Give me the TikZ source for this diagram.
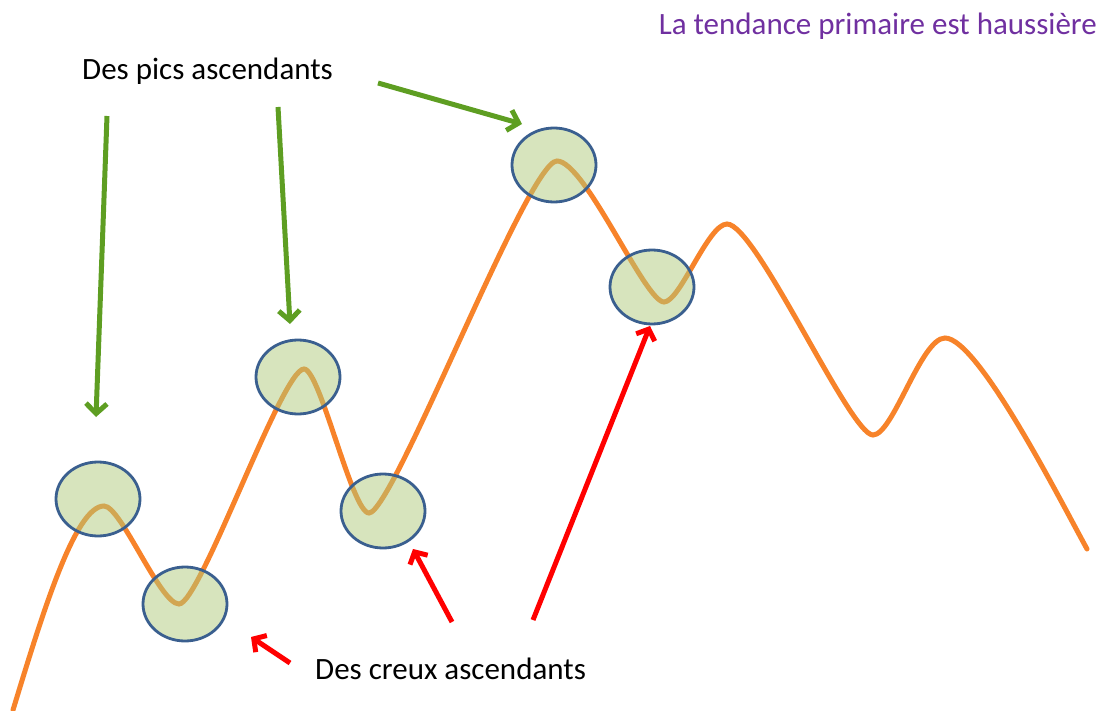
\documentclass[tikz,border=0pt]{standalone}
\usepackage{fontspec}
\setmainfont{Carlito}
\usetikzlibrary{arrows.meta,shapes.geometric}
\definecolor{curveor}{HTML}{F7832A}
\definecolor{ellfill}{HTML}{AFC97B}
\definecolor{elldraw}{HTML}{3A5F8F}
\definecolor{greenar}{HTML}{5E9E22}
\definecolor{redar}{HTML}{FF0000}
\definecolor{titlepurple}{HTML}{7030A0}
\tikzset{
  zone/.style={ellipse, draw=elldraw, line width=2.8pt, fill=ellfill, fill opacity=0.5, draw opacity=1,
    minimum width=84pt, minimum height=74pt, inner sep=0pt},
  greenarrow/.style={draw=greenar, line width=5pt, -{Straight Barb[length=10pt,width=21pt]}},
  redarrow/.style={draw=redar, line width=5pt, -{Straight Barb[length=9pt,width=20pt]}},
  label/.style={font=\fontsize{31}{36}\selectfont, text=black, inner sep=0pt, anchor=base west}
}
\begin{document}
\begin{tikzpicture}[x=1pt,y=-1pt]
\useasboundingbox (0,0) rectangle (1102,711);
% price curve
\draw[curveor, line width=5pt, line cap=round]
 (13,710) .. controls (42,615) and (75,506) .. (104,506)
 .. controls (121,506) and (160,604) .. (179,604)
 .. controls (200,604) and (282,369) .. (304,369)
 .. controls (320,369) and (352,513) .. (369,513)
 .. controls (393,513) and (528,161) .. (557,161)
 .. controls (585,161) and (645,302) .. (664,302)
 .. controls (680,302) and (708,224) .. (727,224)
 .. controls (756,224) and (850,435) .. (873,435)
 .. controls (893,435) and (921,338) .. (945,338)
 .. controls (978,338) and (1060,500) .. (1087,549);
% zones
\node[zone] (e1) at (98,499) {};
\node[zone] (e2) at (185,604) {};
\node[zone] (e3) at (298,377) {};
\node[zone] (e4) at (383,511) {};
\node[zone] (e5) at (554,165) {};
\node[zone] (e6) at (652,287) {};
% texts
\node[font=\fontsize{31}{36}\selectfont, text=titlepurple, anchor=base east, inner sep=0pt] (title) at (1097,35) {La tendance primaire est haussière};
\node[label] (pics) at (82,80) {Des pics ascendants};
\node[label] (creux) at (315,679) {Des creux ascendants};
% green arrows
\coordinate (g1s) at (107,116); \coordinate (g1t) at (96,417);
\coordinate (g2s) at (278,107); \coordinate (g2t) at (290,324);
\coordinate (g3s) at (378,83);  \coordinate (g3t) at (522,124);
\draw[greenarrow] (g1s) -- (g1t);
\draw[greenarrow] (g2s) -- (g2t);
\draw[greenarrow] (g3s) -- (g3t);
% red arrows
\coordinate (r1s) at (290,663); \coordinate (r1t) at (251,637);
\coordinate (r2s) at (452,622); \coordinate (r2t) at (413,549);
\coordinate (r3s) at (533,620); \coordinate (r3t) at (650,326);
\draw[redarrow] (r1s) -- (r1t);
\draw[redarrow] (r2s) -- (r2t);
\draw[redarrow] (r3s) -- (r3t);
\end{tikzpicture}
\end{document}
